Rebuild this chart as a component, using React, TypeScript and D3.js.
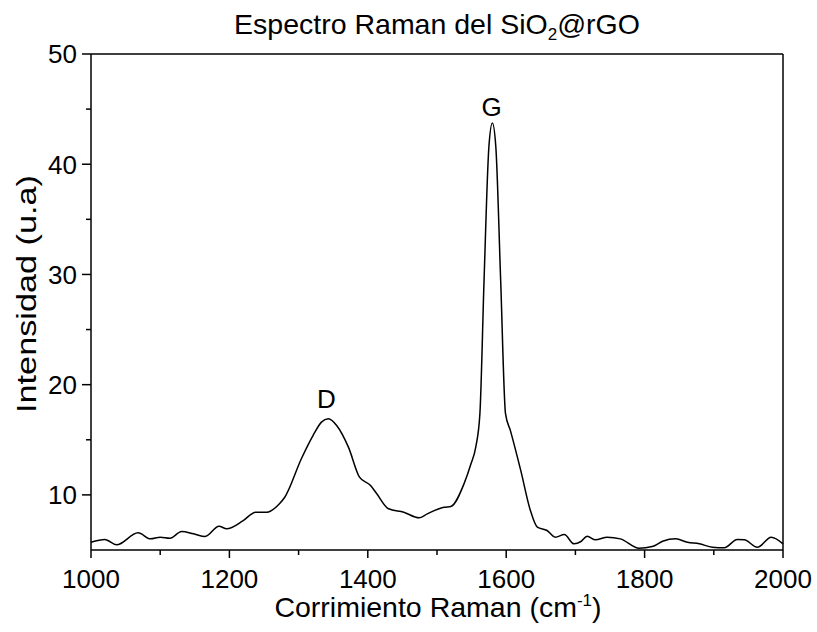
import React from "react";
import * as d3 from "d3";

const ramanShift = [1000,1020,1037,1068,1086,1100,1114,1131,1148,1165,1185,1196,1220,1238,1254,1273,1280,1304,1321,1333,1343,1355,1372,1388,1404,1413,1430,1452,1474,1486,1510,1520,1539,1549,1556,1562,1568,1575,1580,1585,1592,1599,1606,1621,1635,1645,1659,1671,1684,1698,1708,1717,1729,1746,1765,1792,1811,1826,1845,1862,1879,1898,1915,1934,1944,1963,1983,2000];
const intensity = [5.70,5.95,5.47,6.56,6.01,6.16,6.07,6.68,6.47,6.22,7.16,6.92,7.67,8.43,8.43,9.25,9.79,13.28,15.40,16.60,16.91,16.30,14.33,11.61,10.85,10.10,8.74,8.43,7.92,8.28,8.88,8.95,11.0,12.8,14.33,17.37,29.47,41.58,43.73,41.58,29.47,17.37,15.85,12.22,8.58,7.07,6.77,6.16,6.40,5.56,5.77,6.25,5.92,6.16,6.01,5.16,5.31,5.79,6.01,5.70,5.56,5.25,5.20,5.95,5.92,5.25,6.16,5.56];

const xMajorTicks = [1000,1200,1400,1600,1800,2000];
const xMinorTicks = [1100,1300,1500,1700,1900];
const yMajorTicks = [10,20,30,40,50];
const yMinorTicks = [15,25,35,45];

const peakLabels = ["D","G"];
const peakX = [1340,1579];
const peakY = [17.85,44.35];

const W = 817, H = 632;
const FONT = "'Liberation Sans', Arial, sans-serif";

export default function App() {
  const x = d3.scaleLinear().domain([1000,2000]).range([91,783]);
  const y = d3.scaleLinear().domain([5,50]).range([550,54]);
  const data = ramanShift.map((w,i)=>[w,intensity[i]] as [number,number]);
  const line = d3.line<[number,number]>().x(d=>x(d[0])).y(d=>y(d[1])).curve(d3.curveMonotoneX);
  const [x0,x1] = x.range();
  const [y0,y1] = y.range();
  return (
    <svg width={W} height={H} style={{position:"fixed",left:0,top:0,background:"#fff"}} fontFamily={FONT}>
      <rect x={0} y={0} width={W} height={H} fill="#fff"/>
      <path d={line(data)!} fill="none" stroke="#000" strokeWidth={1.5}/>
      {/* frame */}
      <line x1={x0} x2={x1} y1={y1} y2={y1} stroke="#000" strokeWidth={1.5}/>
      <line x1={x1} x2={x1} y1={y1} y2={y0} stroke="#000" strokeWidth={1.5}/>
      <line x1={x0} x2={x1} y1={y0} y2={y0} stroke="#000" strokeWidth={1.5}/>
      <line x1={x0} x2={x0} y1={y1} y2={y0} stroke="#000" strokeWidth={1.5}/>
      {/* x ticks */}
      {xMajorTicks.map(t=>(
        <g key={"xm"+t}>
          <line x1={x(t)} x2={x(t)} y1={y0} y2={y0+8} stroke="#000" strokeWidth={1.5}/>
          <text x={x(t)} y={588} fontSize={26} textAnchor="middle" fill="#000">{t}</text>
        </g>
      ))}
      {xMinorTicks.map(t=>(
        <line key={"xn"+t} x1={x(t)} x2={x(t)} y1={y0} y2={y0+5} stroke="#000" strokeWidth={1.5}/>
      ))}
      {/* y ticks */}
      {yMajorTicks.map(t=>(
        <g key={"ym"+t}>
          <line x1={x0-9} x2={x0} y1={y(t)} y2={y(t)} stroke="#000" strokeWidth={1.5}/>
          <text x={x0-14} y={y(t)} dy="0.36em" fontSize={26} textAnchor="end" fill="#000">{t}</text>
        </g>
      ))}
      {yMinorTicks.map(t=>(
        <line key={"yn"+t} x1={x0-5} x2={x0} y1={y(t)} y2={y(t)} stroke="#000" strokeWidth={1.5}/>
      ))}
      {/* peak labels */}
      {peakLabels.map((l,i)=>(
        <text key={l} x={x(peakX[i])} y={y(peakY[i])} fontSize={26} textAnchor="middle" fill="#000">{l}</text>
      ))}
      {/* title */}
      <text x={437} y={34} fontSize={28.5} textAnchor="middle" fill="#000">
        Espectro Raman del SiO<tspan fontSize={17} dy={6}>2</tspan><tspan dy={-6}>@rGO</tspan>
      </text>
      {/* x label */}
      <text x={438} y={617} fontSize={28.5} textAnchor="middle" fill="#000">
        Corrimiento Raman (cm<tspan fontSize={17} dy={-11}>-1</tspan><tspan dy={11}>)</tspan>
      </text>
      {/* y label */}
      <text transform={`translate(36,294) rotate(-90)`} fontSize={27} textAnchor="middle" fill="#000" textLength={238} lengthAdjust="spacingAndGlyphs">Intensidad (u.a)</text>
    </svg>
  );
}
